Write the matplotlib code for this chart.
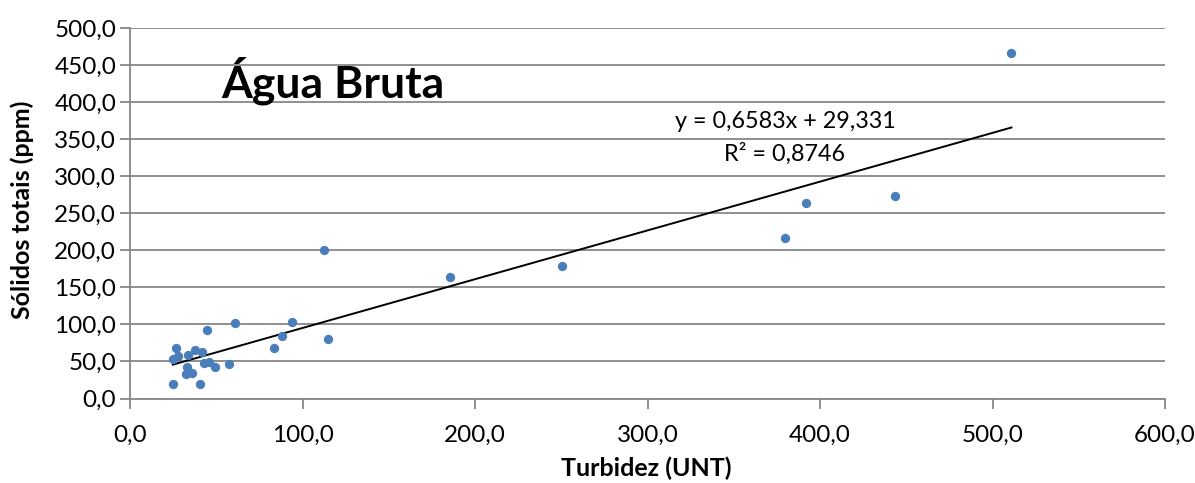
import matplotlib
matplotlib.use("Agg")
import matplotlib.pyplot as plt
import numpy as np
from matplotlib.ticker import FuncFormatter, MultipleLocator

# Data
turbidez = [24.8, 40.6, 26.5, 24.8, 28.0, 33.5, 37.7, 41.6, 44.9, 60.7,
            32.9, 32.5, 35.8, 42.9, 45.8, 49.5, 57.3, 83.7, 88.4, 94.2,
            114.7, 112.6, 185.7, 250.7, 379.7, 391.9, 443.5, 511.0]
solidos = [19.2, 19.6, 68.6, 53.3, 57.8, 58.7, 65.5, 62.3, 92.4, 102.3,
           42.9, 33.0, 34.8, 47.5, 48.8, 42.9, 47.0, 67.7, 84.8, 103.6,
           80.7, 200.4, 163.6, 178.8, 216.2, 264.2, 273.3, 466.7]
slope = 0.6583
intercept = 29.331
r2 = 0.8746
title = "Água Bruta"
xlabel = "Turbidez (UNT)"
ylabel = "Sólidos totais (ppm)"

plt.rcParams['font.family'] = ['Lato', 'DejaVu Sans']

fig = plt.figure(figsize=(11.95, 4.83), dpi=100)
ax = fig.add_axes([130/1195, 1-398.5/483, 1035/1195, 370.5/483])

ax.set_xlim(0, 600)
ax.set_ylim(0, 500)
ax.yaxis.set_major_locator(MultipleLocator(50))
ax.xaxis.set_major_locator(MultipleLocator(100))
fmt = FuncFormatter(lambda v, p: f"{v:.1f}".replace(".", ","))
ax.xaxis.set_major_formatter(fmt)
ax.yaxis.set_major_formatter(fmt)

ax.grid(axis='y', color='#878787', linewidth=1.3)
ax.set_axisbelow(True)
for s in ['top', 'right']:
    ax.spines[s].set_visible(False)
for s in ['left', 'bottom']:
    ax.spines[s].set_color('#878787')
    ax.spines[s].set_linewidth(1.3)
ax.tick_params(axis='both', direction='out', length=7, width=1.3,
               color='#878787', labelsize=17.5, labelcolor='black')
ax.tick_params(axis='x', pad=12)
ax.tick_params(axis='y', pad=3)

ax.scatter(turbidez, solidos, s=45, color='#4a7ebb', zorder=3, linewidths=0)

xs = np.array([min(turbidez), max(turbidez)])
ax.plot(xs, slope*xs + intercept, color='black', linewidth=1.4, zorder=2)

eq = f"y = {slope:.4f}x + {intercept:.3f}".replace(".", ",")
r2txt = f"R² = {r2:.4f}".replace(".", ",")
fig.text(785/1195, 1-122/483, eq, ha='center', va='center', fontsize=16.8)
fig.text(785/1195, 1-154/483, r2txt, ha='center', va='center', fontsize=16.8)

fig.text(221/1195, 1-81/483, title, ha='left', va='center', fontsize=32,
         fontweight='bold')

fig.text(646/1195, 1-468/483, xlabel, ha='center', va='center',
         fontsize=18, fontweight='bold')
fig.text(22/1195, 1-210/483, ylabel, ha='center', va='center',
         fontsize=18, fontweight='bold', rotation=90)

fig.savefig("out.png", dpi=100)
